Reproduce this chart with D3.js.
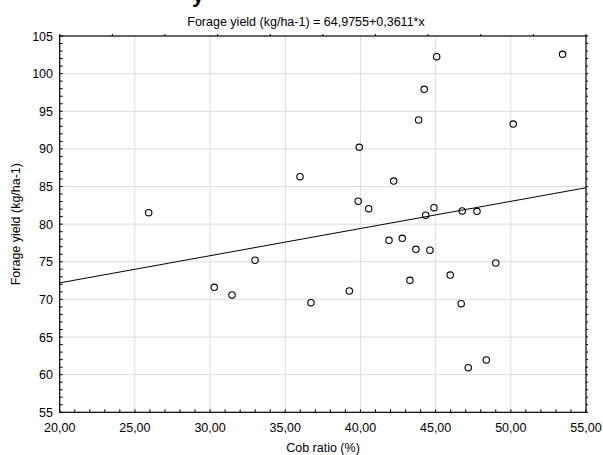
<!DOCTYPE html>
<html>
<head>
<meta charset="utf-8">
<script src="https://cdn.jsdelivr.net/npm/d3@7"></script>
<style>
  html, body { margin: 0; padding: 0; background: #fff; }
  svg { display: block; }
  text { font-family: "Liberation Sans", Arial, sans-serif; fill: #000; }
</style>
</head>
<body>
<svg id="chart" width="603" height="455"></svg>
<script>
const cobRatio = [25.92, 30.28, 31.46, 32.99, 35.98, 36.71, 39.26, 39.85, 40.55, 45.07,
                  44.24, 43.87, 50.16, 39.92, 53.44, 42.21, 44.89, 44.34, 46.77, 47.75,
                  41.90, 42.78, 43.69, 44.62, 49.00, 43.29, 45.97, 46.70, 48.37, 47.17];
const forageYield = [81.53, 71.61, 70.59, 75.20, 86.31, 69.56, 71.12, 83.04, 82.05, 102.25,
                     97.92, 93.84, 93.30, 90.21, 102.57, 85.73, 82.19, 81.18, 81.75, 81.70,
                     77.85, 78.12, 76.66, 76.53, 74.84, 72.54, 73.24, 69.43, 61.95, 60.93];
const xTicks = [20, 25, 30, 35, 40, 45, 50, 55];
const yTicks = [55, 60, 65, 70, 75, 80, 85, 90, 95, 100, 105];
const intercept = 64.9755;
const slope = 0.3611;
const titleText = "Forage yield (kg/ha-1) = 64,9755+0,3611*x";
const xLabel = "Cob ratio (%)";
const yLabel = "Forage yield (kg/ha-1)";

const svg = d3.select("#chart");
const x = d3.scaleLinear().domain([20, 55]).range([59.7, 586]);
const y = d3.scaleLinear().domain([55, 105]).range([412.3, 36]);
const fmt = v => d3.format(".2f")(v).replace(".", ",");
const fs = "12.5px";

// cropped big title fragment
svg.append("text").attr("x", 192).attr("y", 2).attr("font-size", "22px")
  .attr("font-weight", "bold").text("y");

// grid
svg.append("g").selectAll("line").data(xTicks.slice(1, -1)).join("line")
  .attr("x1", d => x(d)).attr("x2", d => x(d)).attr("y1", y(105)).attr("y2", y(55))
  .attr("stroke", "#dcdcdc").attr("stroke-width", 1);
svg.append("g").selectAll("line").data(yTicks.slice(1, -1)).join("line")
  .attr("y1", d => y(d)).attr("y2", d => y(d)).attr("x1", x(20)).attr("x2", x(55))
  .attr("stroke", "#dcdcdc").attr("stroke-width", 1);

// minor ticks
const xMinor = d3.range(20, 55.01, 1);
const yMinor = d3.range(55, 105.01, 1);
svg.append("g").selectAll("line").data(xMinor).join("line")
  .attr("x1", d => x(d)).attr("x2", d => x(d)).attr("y1", y(55)).attr("y2", y(55) - 3)
  .attr("stroke", "#000").attr("stroke-width", 1);
svg.append("g").selectAll("line").data(yMinor).join("line")
  .attr("y1", d => y(d)).attr("y2", d => y(d)).attr("x1", x(20)).attr("x2", x(20) + 3)
  .attr("stroke", "#000").attr("stroke-width", 1);
svg.append("g").selectAll("line").data(yMinor).join("line")
  .attr("y1", d => y(d)).attr("y2", d => y(d)).attr("x1", x(55)).attr("x2", x(55) + 2)
  .attr("stroke", "#000").attr("stroke-width", 1);
const xTop = d3.range(20, 55.01, 3.5);
svg.append("g").selectAll("line").data(xTop).join("line")
  .attr("x1", d => x(d)).attr("x2", d => x(d)).attr("y1", y(105)).attr("y2", y(105) - 2)
  .attr("stroke", "#000").attr("stroke-width", 1);

// frame
svg.append("rect").attr("x", x(20)).attr("y", y(105))
  .attr("width", x(55) - x(20)).attr("height", y(55) - y(105))
  .attr("fill", "none").attr("stroke", "#000").attr("stroke-width", 1.2);

// regression line
svg.append("line")
  .attr("x1", x(20)).attr("y1", y(intercept + slope * 20))
  .attr("x2", x(55)).attr("y2", y(intercept + slope * 55))
  .attr("stroke", "#000").attr("stroke-width", 1);

// points
svg.append("g").selectAll("circle").data(cobRatio.map((c, i) => [c, forageYield[i]])).join("circle")
  .attr("cx", d => x(d[0])).attr("cy", d => y(d[1])).attr("r", 3.2)
  .attr("fill", "none").attr("stroke", "#000").attr("stroke-width", 1.1);

// tick labels
svg.append("g").selectAll("text").data(xTicks).join("text")
  .attr("x", d => x(d)).attr("y", 432).attr("text-anchor", "middle")
  .attr("font-size", fs).text(d => fmt(d));
svg.append("g").selectAll("text").data(yTicks).join("text")
  .attr("x", 53).attr("y", d => y(d) + 4.5).attr("text-anchor", "end")
  .attr("font-size", fs).text(d => d);

// titles
svg.append("text").attr("x", 306).attr("y", 26).attr("text-anchor", "middle")
  .attr("font-size", fs).text(titleText);
svg.append("text").attr("x", 323).attr("y", 452).attr("text-anchor", "middle")
  .attr("font-size", fs).text(xLabel);
svg.append("text").attr("transform", `translate(20,${(y(55) + y(105)) / 2}) rotate(-90)`)
  .attr("text-anchor", "middle").attr("font-size", fs).text(yLabel);
</script>
</body>
</html>
